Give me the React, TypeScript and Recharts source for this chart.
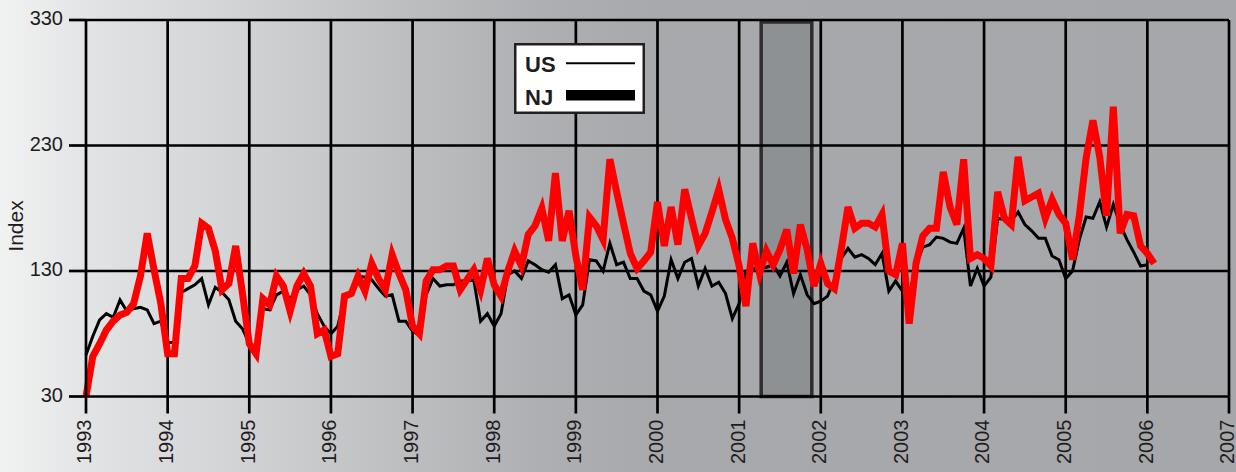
import React from 'react';
import { LineChart, Line, XAxis, YAxis, ReferenceArea, ReferenceLine, Legend, Label } from 'recharts';

const START_YEAR = 1993;
const yearTicks = [1993, 1994, 1995, 1996, 1997, 1998, 1999, 2000, 2001, 2002, 2003, 2004, 2005, 2006, 2007];
const indexTicks = [30, 130, 230, 330];
const recessionStart = 2001.27;
const recessionEnd = 2001.89;

// Monthly index, Jan 1993 .. Feb 2006
const njValues = [
  30, 62, 72, 83, 90, 95, 97, 104, 126, 160, 131, 104,
  64, 64, 124, 124, 134, 168, 164, 146, 115, 120, 150, 112,
  72, 64, 108, 103, 126, 118, 98, 118, 128, 118, 80, 83,
  62, 64, 110, 112, 126, 114, 136, 124, 115, 143, 128, 115,
  86, 80, 122, 131, 131, 134, 134, 115, 123, 131, 115, 140,
  119, 110, 130, 146, 134, 159, 166, 180, 154, 208, 154, 178,
  142, 115, 173, 166, 155, 219, 193, 168, 144, 132, 138, 145,
  185, 150, 181, 151, 195, 172, 150, 160, 177, 195, 171, 156,
  134, 102, 152, 128, 146, 135, 147, 163, 128, 167, 147, 118,
  136, 120, 116, 147, 181, 164, 168, 168, 165, 175, 130, 127,
  152, 88, 136, 158, 164, 164, 209, 181, 167, 219, 140, 143,
  140, 134, 193, 172, 167, 221, 186, 189, 192, 172, 187, 175,
  168, 139, 174, 220, 250, 221, 174, 261, 160, 175, 174, 150,
  144, 136,
];

const usValues: (number | null)[] = [
  63, 78, 91, 96, 93, 107, 98, 100, 101, 99, 88, 90,
  73, 73, 113, 116, 119, 124, 103, 117, 113, 107, 90, 84,
  72, 67, 100, 99, 111, 114, 108, 115, 118, 111, 96, 86,
  80, 86, 108, 112, 126, 125, 123, 116, 110, 111, 90, 90,
  82, 79, 111, 124, 118, 119, 119, 122, 122, 123, 90, 96,
  86, 96, 127, 130, 124, 138, 135, 131, 129, 135, 108, 111,
  95, 103, 139, 138, 130, 152, 135, 137, 124, 124, 114, 111,
  98, 110, 139, 124, 137, 140, 118, 132, 118, 121, 112, 92,
  104, 130, 132, 132, 133, 135, 126, 137, 112, 127, 111, 104,
  106, 110, 123, 140, 148, 141, 143, 140, 135, 144, 114, 122,
  114, 110, 135, 149, 151, 157, 156, 153, 152, 164, 118, 132,
  118, 125, 172, 171, 170, 177, 167, 162, 156, 156, 142, 139,
  124, 130, 155, 173, 172, 185, 165, 183, 167, 155, 145, 134,
  135, null,
];

const data = njValues.map((nj, i) => ({
  t: START_YEAR + i / 12,
  nj,
  us: usValues[i] ?? null,
}));

const FONT = '"Liberation Sans", Arial, Helvetica, sans-serif';
const TEXT = '#1f1c1d';

const XTick = (props: any) => {
  const { x, y, payload } = props;
  return (
    <text
      x={x}
      y={y}
      dy={5.4}
      transform={`rotate(-90, ${x}, ${y})`}
      textAnchor="end"
      fontSize={20}
      fontFamily={FONT}
      fill={TEXT}
    >
      {payload.value}
    </text>
  );
};

const YTick = (props: any) => {
  const { x, y, payload } = props;
  return (
    <text x={x} y={y} dy={5.2} textAnchor="end" fontSize={20} fontFamily={FONT} fill={TEXT}>
      {payload.value}
    </text>
  );
};

const IndexLabel = () => (
  <text
    x={23}
    y={226}
    transform="rotate(-90, 23, 226)"
    textAnchor="middle"
    fontSize={21}
    fontFamily={FONT}
    fill={TEXT}
  >
    Index
  </text>
);

const LegendBox = () => (
  <svg width={131} height={71} style={{ display: 'block' }}>
    <rect x={1.25} y={1.25} width={128.5} height={68.5} fill="#ffffff" stroke="#231f20" strokeWidth={2.5} />
    <text x={11} y={28.7} fontSize={22} fontWeight="bold" fontFamily={FONT} fill={TEXT}>US</text>
    <line x1={52} x2={121} y1={20.3} y2={20.3} stroke="#000" strokeWidth={2} />
    <text x={11} y={62} fontSize={22} fontWeight="bold" fontFamily={FONT} fill={TEXT}>NJ</text>
    <rect x={52} y={47} width={69} height={10.5} fill="#000" />
  </svg>
);

const GRID = { stroke: '#000', strokeWidth: 2.7 };

export default function App() {
  return (
    <div
      style={{
        position: 'absolute',
        left: 0,
        top: 0,
        width: 1236,
        height: 472,
        background:
          'linear-gradient(to right, #f1f2f2 0%, #e1e2e3 8%, #d1d2d4 20%, #bebfc1 32%, #aeafb2 44%, #a8a9ac 53%, #a6a7aa 100%)',
      }}
    >
      <LineChart width={1236} height={472} data={data} margin={{ top: 20, right: 7, bottom: 0, left: 0 }}>
        <ReferenceArea
          x1={recessionStart}
          x2={recessionEnd}
          y1={30}
          y2={328.5}
          fill="#8d9194"
          fillOpacity={1}
          stroke="#2e2c2d"
          strokeWidth={3.5}
        />
        {indexTicks.slice(1).map((v) => (
          <ReferenceLine key={`h${v}`} y={v} {...GRID} />
        ))}
        {yearTicks.slice(1).map((v) => (
          <ReferenceLine key={`v${v}`} x={v} {...GRID} />
        ))}
        <XAxis
          type="number"
          dataKey="t"
          domain={[1993, 2007]}
          ticks={yearTicks}
          interval={0}
          height={75.5}
          tickSize={17}
          tickMargin={6}
          axisLine={GRID}
          tickLine={GRID}
          tick={<XTick />}
        />
        <YAxis
          type="number"
          domain={[30, 330]}
          ticks={indexTicks}
          interval={0}
          width={86}
          tickSize={17}
          tickMargin={6}
          axisLine={GRID}
          tickLine={GRID}
          tick={<YTick />}
        >
          <Label content={<IndexLabel />} />
        </YAxis>
        <Line
          type="linear"
          dataKey="us"
          name="US"
          stroke="#000"
          strokeWidth={3}
          dot={false}
          activeDot={false}
          isAnimationActive={false}
        />
        <Line
          type="linear"
          dataKey="nj"
          name="NJ"
          stroke="#ff0000"
          strokeWidth={7}
          dot={false}
          activeDot={false}
          isAnimationActive={false}
        />
        <Legend
          layout="horizontal"
          verticalAlign="middle"
          align="center"
          content={<LegendBox />}
          wrapperStyle={{ left: 514, top: 43, width: 131, height: 71 }}
        />
      </LineChart>
    </div>
  );
}
